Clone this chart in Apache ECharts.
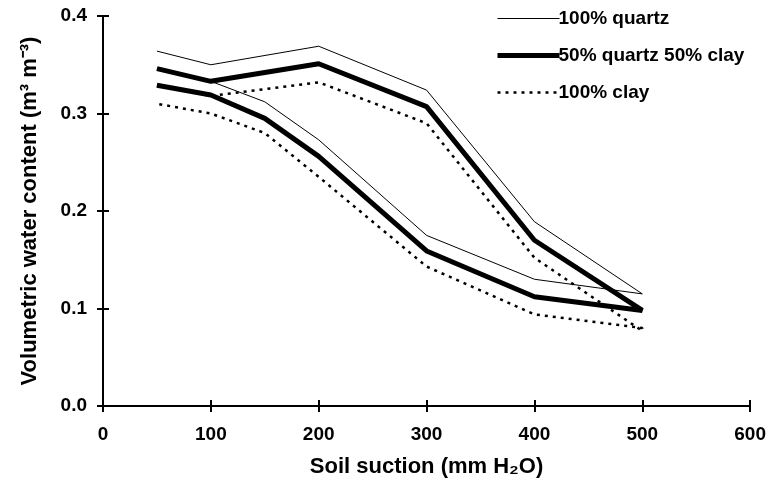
<!DOCTYPE html>
<html>
<head>
<meta charset="utf-8">
<script src="https://cdn.jsdelivr.net/npm/echarts@6/dist/echarts.min.js"></script>
<style>
html,body{margin:0;padding:0;background:#fff;}
#chart{width:769px;height:494px;}
</style>
</head>
<body>
<div id="chart"></div>
<script>
// Soil suction (mm H2O) for the drying (upper) and wetting (lower) branches
const suctionDrying = [50, 100, 200, 300, 400, 500];
const suctionWetting = [500, 400, 300, 200, 150, 100, 50];

// Volumetric water content (m3 m-3)
const quartzDrying = [0.364, 0.350, 0.369, 0.324, 0.189, 0.115];
const quartzWetting = [0.116, 0.130, 0.175, 0.273, 0.312, 0.333, 0.345];
const mixDrying = [0.346, 0.333, 0.351, 0.307, 0.170, 0.098];
const mixWetting = [0.098, 0.112, 0.159, 0.256, 0.295, 0.319, 0.329];
const clayDrying = [0.329, 0.318, 0.332, 0.290, 0.152, 0.077];
const clayWetting = [0.080, 0.094, 0.143, 0.235, 0.280, 0.300, 0.310];

const seriesNames = ['100% quartz', '50% quartz 50% clay', '100% clay'];
const xTicks = [0, 100, 200, 300, 400, 500, 600];
const yTicks = [0.0, 0.1, 0.2, 0.3, 0.4];

function loop(dry, wet) {
  const pts = [];
  suctionDrying.forEach((x, i) => pts.push([x, dry[i]]));
  suctionWetting.forEach((x, i) => pts.push([x, wet[i]]));
  return pts;
}

const FONT = '"Liberation Sans", Arial, sans-serif';
const chart = echarts.init(document.getElementById('chart'), null, {renderer: 'canvas'});

const lineStyles = [
  {color: '#000', width: 1, type: 'solid'},
  {color: '#000', width: 5, type: 'solid'},
  {color: '#000', width: 2.5, type: [3, 5]}
];

const baseX = {
  type: 'value', min: xTicks[0], max: xTicks[xTicks.length - 1], interval: 100,
  splitLine: {show: false}
};
const baseY = {
  type: 'value', min: yTicks[0], max: yTicks[yTicks.length - 1], interval: 0.1,
  splitLine: {show: false}
};

chart.setOption({
  animation: false,
  backgroundColor: '#fff',
  grid: {left: 103, right: 17, top: 16, bottom: 88, containLabel: false},
  legend: {
    orient: 'vertical',
    left: 490, top: 4,
    itemWidth: 62, itemHeight: 14, itemGap: 18,
    data: seriesNames.map((n, i) => ({
      name: n,
      lineStyle: lineStyles[i],
      itemStyle: {opacity: 0, color: 'transparent', borderWidth: 0}
    })),
    textStyle: {fontFamily: FONT, fontWeight: 'bold', fontSize: 19, color: '#000', padding: [0, 0, 0, -6]},
    inactiveColor: '#000'
  },
  xAxis: [
    Object.assign({}, baseX, {
      position: 'bottom',
      name: 'Soil suction (mm H\u2082O)', nameLocation: 'middle', nameGap: 50,
      nameTextStyle: {fontFamily: FONT, fontWeight: 'bold', fontSize: 22, color: '#000'},
      axisLine: {show: true, lineStyle: {color: '#000', width: 2}},
      axisTick: {show: true, inside: false, length: 6, lineStyle: {color: '#000', width: 2}},
      axisLabel: {margin: 19, fontFamily: FONT, fontWeight: 'bold', fontSize: 19, color: '#000',
        formatter: v => String(v)}
    }),
    Object.assign({}, baseX, {
      position: 'bottom',
      axisLine: {show: false},
      axisTick: {show: true, inside: true, length: 6, lineStyle: {color: '#000', width: 2}},
      axisLabel: {show: false}
    })
  ],
  yAxis: [
    Object.assign({}, baseY, {
      position: 'left',
      name: 'Volumetric water content (m\u00B3 m\u207B\u00B3)', nameLocation: 'middle', nameGap: 62,
      nameRotate: 90,
      nameTextStyle: {fontFamily: FONT, fontWeight: 'bold', fontSize: 22, color: '#000'},
      axisLine: {show: true, lineStyle: {color: '#000', width: 2}},
      axisTick: {show: true, inside: false, length: 6, lineStyle: {color: '#000', width: 2}},
      axisLabel: {margin: 16, fontFamily: FONT, fontWeight: 'bold', fontSize: 19, color: '#000',
        formatter: v => v.toFixed(1)}
    }),
    Object.assign({}, baseY, {
      position: 'left',
      axisLine: {show: false},
      axisTick: {show: true, inside: true, length: 6, lineStyle: {color: '#000', width: 2}},
      axisLabel: {show: false}
    })
  ],
  series: [
    {
      name: seriesNames[0], type: 'line', data: loop(quartzDrying, quartzWetting), z: 3,
      symbol: 'none', lineStyle: lineStyles[0], itemStyle: {color: '#000'}
    },
    {
      name: seriesNames[1], type: 'line', data: loop(mixDrying, mixWetting), z: 2,
      symbol: 'none', lineStyle: lineStyles[1], itemStyle: {color: '#000'}
    },
    {
      name: seriesNames[2], type: 'line', data: loop(clayDrying, clayWetting), z: 2,
      symbol: 'none', lineStyle: lineStyles[2], itemStyle: {color: '#000'}
    }
  ]
});
</script>
</body>
</html>
